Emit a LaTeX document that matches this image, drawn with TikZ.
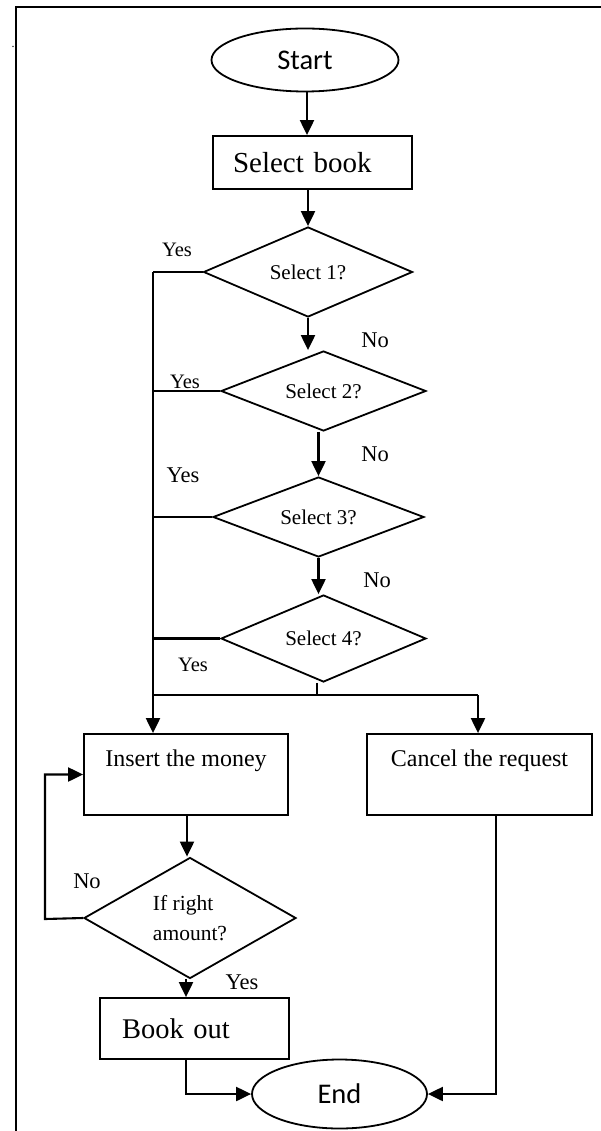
\documentclass[tikz,border=0pt]{standalone}
\usepackage{fontspec}
\setmainfont{Liberation Serif}
\newfontfamily\calib{Carlito}
\usetikzlibrary{shapes.geometric,arrows.meta}
\begin{document}
\begin{tikzpicture}[x=1pt,y=-1pt,
  ln/.style={line width=2.1pt},
  arr/.style={ln,-{Triangle[length=15pt,width=14pt]}},
  terminal/.style={draw,line width=1.8pt,shape=ellipse,inner sep=0pt,font=\calib\fontsize{28.5}{32}\selectfont},
  box/.style={draw,line width=1.8pt,shape=rectangle,inner sep=0pt},
  decision/.style={draw,line width=1.8pt,shape=diamond,shape aspect=2,inner sep=0pt,font=\fontsize{21}{30}\selectfont},
  lblyes/.style={font=\fontsize{20.5}{24}\selectfont,inner sep=0pt},
  lblbig/.style={font=\fontsize{22.5}{26}\selectfont,inner sep=0pt}
]
\useasboundingbox (0,0) rectangle (600,1131);
\fill[white] (0,0) rectangle (600,1131);
% frame
\draw[line width=2.2pt] (16,1140) -- (16,7) -- (610,7);
\node[font=\fontsize{12}{14}\selectfont,inner sep=0pt] (dot) at (13,47) {.};

% nodes
\node[terminal,minimum width=187pt,minimum height=63pt] (start) at (305,60) {Start};
\node[box,minimum width=199pt,minimum height=53pt,inner xsep=20pt,text width=159pt,align=left,
      font=\fontsize{29}{34}\selectfont] (book) at (312.5,162.5) {Select book};
\node[decision,minimum width=209pt,minimum height=90pt] (s1) at (308,272) {Select 1?};
\node[decision,minimum width=205pt,minimum height=80pt] (s2) at (323.5,391) {Select 2?};
\node[decision,minimum width=211pt,minimum height=80pt] (s3) at (318.5,517) {Select 3?};
\node[decision,minimum width=205pt,minimum height=87pt] (s4) at (323.5,638.5) {Select 4?};

\node[box,minimum width=204pt,minimum height=81pt,inner ysep=8pt,text height=24pt,text depth=41pt,
      font=\fontsize{24}{28}\selectfont] (ins) at (186,774.5) {Insert the money};
\node[box,minimum width=225pt,minimum height=81pt,inner ysep=8pt,text height=24pt,text depth=41pt,
      font=\fontsize{24}{28}\selectfont] (can) at (479.5,774.5) {Cancel the request};

\node[decision,minimum width=212pt,minimum height=121pt,align=left,font=\fontsize{21.5}{30}\selectfont]
      (ok) at (190,918) {If right\\amount?};
\node[box,minimum width=189pt,minimum height=61pt,inner xsep=22pt,text width=145pt,align=left,
      font=\fontsize{28.5}{33}\selectfont] (out) at (194.5,1028.5) {Book out};
\node[terminal,minimum width=175pt,minimum height=69pt] (end) at (339.5,1094) {End};

% helper coordinates
\coordinate (L1) at (153,272);
\coordinate (J) at (317,695);
\coordinate (JL) at (153,695);
\coordinate (JR) at (478,695);
\coordinate (LP) at (45,919);
\coordinate (CB) at (496,1094);
\coordinate (OB) at (186,1094);

% connectors
\draw[arr] (start.south -| 307,0) -- (book.north -| 307,0);
\draw[arr] (book.south -| s1.north) -- (s1.north);
\draw[arr] (s1.south) -- (s1.south |- s2.north);
\draw[arr] (s3.north |- s2.south) -- (s3.north);
\draw[arr] (s3.south) -- (s3.south |- s4.north);
\draw[ln] (J |- s4.south) -- (J);

\draw[ln] (s1.west) -- (L1);
\draw[arr] (L1) -- (L1 |- ins.north);
\draw[ln] (s2.west) -- (L1 |- s2.west);
\draw[ln] (s3.west) -- (L1 |- s3.west);
\draw[ln] (s4.west) -- (L1 |- s4.west);
\draw[ln] (JL) -- (JR);
\draw[arr] (JR) -- (JR |- can.north);

\draw[arr] (ins.south -| 187,0) -- (ok.north -| 187,0);
\draw[arr] (ok.west) -- (LP) -- (LP |- ins.west) -- (ins.west);
\draw[arr] (ok.south -| 186,0) -- (out.north -| 186,0);
\draw[arr] (out.south -| OB) -- (OB) -- (end.west);
\draw[arr] (can.south -| CB) -- (CB) -- (end.east);

% labels
\node[lblyes] (y1) at (177,250) {Yes};
\node[lblbig] (n1) at (375,340) {No};
\node[lblyes] (y2) at (185,382) {Yes};
\node[lblbig] (n2) at (375,454) {No};
\node[lblbig] (y3) at (183,475) {Yes};
\node[lblbig] (n3) at (377,580) {No};
\node[lblyes] (y4) at (193,665) {Yes};
\node[lblbig] (n4) at (87,881) {No};
\node[lblbig] (y5) at (242,982) {Yes};
\end{tikzpicture}
\end{document}
